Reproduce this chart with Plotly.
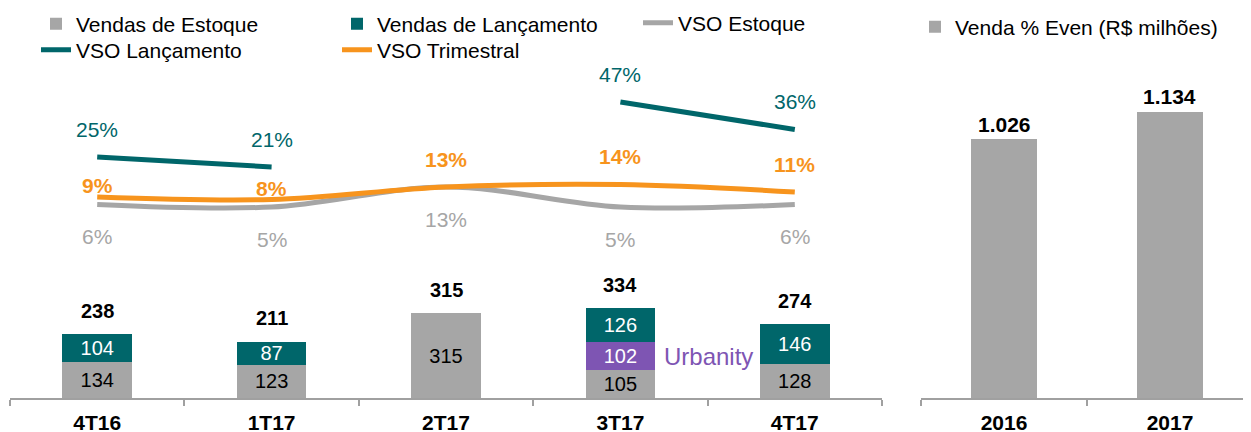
import plotly.graph_objects as go

# ---------------- data ----------------
quarters = ["4T16", "1T17", "2T17", "3T17", "4T17"]
vendas_estoque = [134, 123, 315, 105, 128]
vendas_urbanity = [0, 0, 0, 102, 0]
vendas_lancamento = [104, 87, 0, 126, 146]
vendas_total = [238, 211, 315, 334, 274]
vso_estoque = [0.06, 0.05, 0.13, 0.05, 0.06]
vso_lancamento = [0.25, 0.21, None, 0.47, 0.36]
vso_trimestral = [0.09, 0.08, 0.13, 0.14, 0.11]

years = ["2016", "2017"]
venda_even = [1026, 1134]

# ---------------- styles ----------------
GRAY = "#A6A6A6"
TEAL = "#00666A"
ORANGE = "#F7941D"
PURPLE = "#7E55B3"
FONT = "Arial, Liberation Sans, sans-serif"

OFF = 8                      # default body margin of the html page
PAGE_W, PAGE_H = 1251, 432
W, H = PAGE_W - OFF, PAGE_H - OFF
AXIS_PAGE_Y = 398            # x axis line (page pixels)
PLOT_TOP_PAGE_Y = 60
ML, MR = 10 - OFF, 0
MT = PLOT_TOP_PAGE_Y - OFF
MB = PAGE_H - AXIS_PAGE_Y
PW, PH = W - ML - MR, H - MT - MB


def px_x(px):
    return (px - OFF - ML) / PW


def px_y(py):
    return (AXIS_PAGE_Y - py) / PH


fig = go.Figure()


def seg_text(vals):
    return [str(v) if v else "" for v in vals]


fig.add_trace(go.Bar(
    x=quarters, y=vendas_estoque, name="Vendas de Estoque",
    marker=dict(color=GRAY, line=dict(width=0)), width=0.4,
    text=seg_text(vendas_estoque), textposition="inside", insidetextanchor="middle",
    textfont=dict(family=FONT, size=20, color="#000000"), constraintext="none",
    legend="legend", xaxis="x", yaxis="y", hoverinfo="skip"))
fig.add_trace(go.Bar(
    x=quarters, y=vendas_urbanity, name="Urbanity", showlegend=False,
    marker=dict(color=PURPLE, line=dict(width=0)), width=0.4,
    text=seg_text(vendas_urbanity), textposition="inside", insidetextanchor="middle",
    textfont=dict(family=FONT, size=20, color="#FFFFFF"), constraintext="none",
    xaxis="x", yaxis="y", hoverinfo="skip"))
fig.add_trace(go.Bar(
    x=quarters, y=vendas_lancamento, name="Vendas de Lançamento",
    marker=dict(color=TEAL, line=dict(width=0)), width=0.4,
    text=seg_text(vendas_lancamento), textposition="inside", insidetextanchor="middle",
    textfont=dict(family=FONT, size=20, color="#FFFFFF"), constraintext="none",
    legend="legend2", xaxis="x", yaxis="y", hoverinfo="skip"))

fig.add_trace(go.Scatter(
    x=quarters, y=vso_estoque, name="VSO Estoque", mode="lines",
    line=dict(color=GRAY, width=5, shape="spline", smoothing=1.0),
    legend="legend3", xaxis="x", yaxis="y2", hoverinfo="skip"))
fig.add_trace(go.Scatter(
    x=quarters, y=vso_trimestral, name="VSO Trimestral", mode="lines",
    line=dict(color=ORANGE, width=5, shape="spline", smoothing=1.0),
    legend="legend5", xaxis="x", yaxis="y2", hoverinfo="skip"))
fig.add_trace(go.Scatter(
    x=quarters, y=vso_lancamento, name="VSO Lançamento", mode="lines",
    line=dict(color=TEAL, width=5, shape="spline", smoothing=1.0),
    connectgaps=False,
    legend="legend4", xaxis="x", yaxis="y2", hoverinfo="skip"))

fig.add_trace(go.Bar(
    x=years, y=venda_even, name="Venda % Even (R$ milhões)",
    marker=dict(color=GRAY, line=dict(width=0)), width=0.4,
    legend="legend6", xaxis="x2", yaxis="y3", hoverinfo="skip"))

ann = []
# totals above stacked bars
for i, t in enumerate(vendas_total):
    ann.append(dict(x=i, y=t, xref="x", yref="y", text=f"<b>{t}</b>", showarrow=False,
                    yshift=23, yanchor="middle",
                    font=dict(family=FONT, size=20, color="#000000")))
# Urbanity label
for i, (e, u) in enumerate(zip(vendas_estoque, vendas_urbanity)):
    if u:
        ann.append(dict(x=i, y=e + u / 2, xref="x", yref="y", text="Urbanity", showarrow=False,
                        xanchor="left", xshift=42, yanchor="middle",
                        font=dict(family=FONT, size=24, color=PURPLE)))
# line labels
TRI_SHIFT = [12, 11, 28, 28, 28]
for i, v in enumerate(vso_lancamento):
    if v is not None:
        ann.append(dict(x=i, y=v, xref="x", yref="y2", text=f"{round(v*100)}%", showarrow=False,
                        yshift=28, yanchor="middle", font=dict(family=FONT, size=21, color=TEAL)))
for i, (v, s) in enumerate(zip(vso_trimestral, TRI_SHIFT)):
    ann.append(dict(x=i, y=v, xref="x", yref="y2", text=f"<b>{round(v*100)}%</b>", showarrow=False,
                    yshift=s, yanchor="middle", font=dict(family=FONT, size=21, color=ORANGE)))
for i, v in enumerate(vso_estoque):
    ann.append(dict(x=i, y=v, xref="x", yref="y2", text=f"{round(v*100)}%", showarrow=False,
                    yshift=-32, yanchor="middle", font=dict(family=FONT, size=21, color=GRAY)))
# right chart labels
for i, v in enumerate(venda_even):
    ann.append(dict(x=i, y=v, xref="x2", yref="y3", text="<b>" + f"{v:,}".replace(",", ".") + "</b>",
                    showarrow=False, yshift=15, yanchor="middle",
                    font=dict(family=FONT, size=21, color="#000000")))


def leg(text_px, cy):
    return dict(x=px_x(text_px - 40), y=px_y(cy), xanchor="left", yanchor="middle",
                orientation="v", bgcolor="rgba(0,0,0,0)", borderwidth=0,
                font=dict(family=FONT, size=21, color="#000000"), itemwidth=30)


axis_common = dict(type="category", showline=True, linecolor="#A0A0A0", linewidth=1.5,
                   ticks="outside", tickson="boundaries", ticklen=6, tickcolor="#A0A0A0",
                   tickwidth=1.5, showgrid=False, zeroline=False, ticklabelstandoff=5,
                   tickfont=dict(family=FONT, size=21, color="#000000", weight="bold"))

zero_pct_page_y = 219.5
px_per_unit = 250.0   # pixels per 100 %

fig.update_layout(
    width=W, height=H,
    margin=dict(l=ML, r=MR, t=MT, b=MB, autoexpand=False),
    paper_bgcolor="white", plot_bgcolor="white",
    barmode="stack", showlegend=True,
    annotations=ann,
    xaxis=dict(domain=[0, px_x(882)], range=[-0.5, 4.5], anchor="y", **axis_common),
    xaxis2=dict(domain=[px_x(921), 1], range=[-0.5, 1.488], anchor="y3", **axis_common),
    yaxis=dict(range=[0, PH / 0.269], visible=False, anchor="x"),
    yaxis2=dict(range=[-(AXIS_PAGE_Y - zero_pct_page_y) / px_per_unit,
                       (zero_pct_page_y - PLOT_TOP_PAGE_Y) / px_per_unit],
                visible=False, overlaying="y", anchor="x"),
    yaxis3=dict(range=[0, PH / 0.2523], visible=False, anchor="x2", domain=[0, 1]),
    legend=leg(76, 24),
    legend2=leg(377, 24),
    legend3=leg(678, 23),
    legend4=leg(76, 50),
    legend5=leg(377, 50),
    legend6=leg(955, 27),
)

fig.write_html("out.html")
